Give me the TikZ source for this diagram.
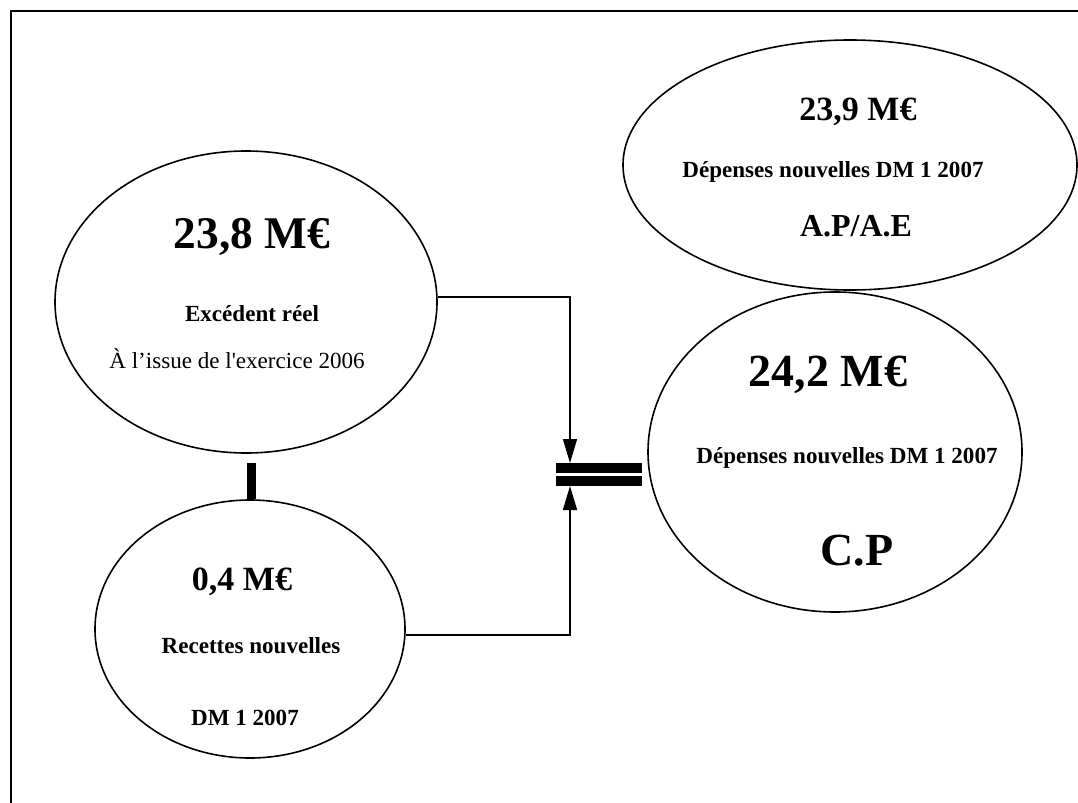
\documentclass[tikz,border=0pt]{standalone}
\usepackage{fontspec}
\setmainfont{Liberation Serif}
\usetikzlibrary{arrows.meta,shapes.geometric}
\begin{document}
\begin{tikzpicture}[x=0.75pt,y=-0.75pt,
  oval/.style={draw,ellipse,line width=1.2pt,inner sep=0pt},
  lbl/.style={anchor=base,inner sep=0pt,font=\bfseries\fontsize{17.3}{20}\selectfont},
  big/.style={anchor=base,inner sep=0pt,font=\bfseries\fontsize{34}{40}\selectfont},
  mid/.style={anchor=base,inner sep=0pt,font=\bfseries\fontsize{25.5}{30}\selectfont},
  arr/.style={line width=1.1pt,-{Triangle[length=18pt,width=10.5pt]}},
  bar/.style={fill=black,draw=none,inner sep=0pt}]
\useasboundingbox (0,0) rectangle (1078,803);
% frame
\coordinate (fbl) at (11,803);
\coordinate (ftl) at (11,11);
\coordinate (ftr) at (1078,11);
\draw[line width=2.2pt] (fbl) -- (ftl) -- (ftr);
% ellipses
\node[oval,minimum width=286.5pt,minimum height=226.5pt] (e1) at (246,302) {};
\node[oval,minimum width=232.5pt,minimum height=193.5pt] (e2) at (250,629) {};
\node[oval,minimum width=280.5pt,minimum height=240pt] (e3) at (835,452) {};
\node[oval,minimum width=340.5pt,minimum height=187.5pt] (e4) at (850,165) {};
% texts ellipse 1
\node[big] (t1a) at (252,248) {23,8 M€};
\node[lbl] (t1b) at (252,321) {Excédent réel};
\node[anchor=base,inner sep=0pt,font=\fontsize{17.3}{20}\selectfont] (t1c) at (237,368) {À l’issue de l\textquotesingle exercice 2006};
% texts ellipse 2
\node[mid] (t2a) at (242,590) {0,4 M€};
\node[lbl] (t2b) at (251,653) {Recettes nouvelles};
\node[lbl] (t2c) at (245,725) {DM 1 2007};
% texts ellipse 3
\node[big,font=\bfseries\fontsize{34.5}{40}\selectfont] (t3a) at (828,386) {24,2 M€};
\node[lbl] (t3b) at (847,463) {Dépenses nouvelles DM 1 2007};
\node[big,font=\bfseries\fontsize{34.5}{40}\selectfont] (t3c) at (857,565) {C.P};
% texts ellipse 4
\node[mid] (t4a) at (858,120) {23,9 M€};
\node[lbl] (t4b) at (833,177) {Dépenses nouvelles DM 1 2007};
\node[mid,font=\bfseries\fontsize{24}{28}\selectfont] (t4c) at (856,236) {A.P/A.E};
% minus bar
\node[bar,minimum width=6.75pt,minimum height=27pt] (minus) at (251.5,481) {};
% equals bars
\node[bar,minimum width=64.5pt,minimum height=7.5pt] (eqA) at (599,468) {};
\node[bar,minimum width=64.5pt,minimum height=7.5pt] (eqB) at (599,481) {};
\coordinate (tipA) at (570,463);
\coordinate (tipB) at (570,486);
% connectors
\draw[arr] ([yshift=3.75pt]e1.east) -| (tipA);
\draw[arr] ([yshift=-4.5pt]e2.east) -| (tipB);
\end{tikzpicture}
\end{document}
